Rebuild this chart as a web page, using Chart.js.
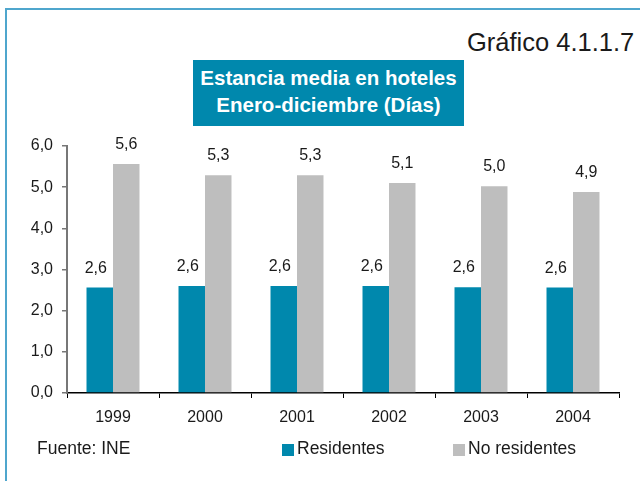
<!DOCTYPE html>
<html>
<head>
<meta charset="utf-8">
<script src="https://cdn.jsdelivr.net/npm/chart.js@4/dist/chart.umd.min.js"></script>
<style>
  body { margin: 0; background: #fff; font-family: "Liberation Sans", Arial, sans-serif; color: #1a1a1a; }
  #wrap { position: relative; width: 640px; height: 481px; overflow: hidden; }
  #frame { position: absolute; left: 5px; top: 8px; width: 700px; height: 600px; border: 2px solid #4fa6cd; box-sizing: border-box; }
  #num { position: absolute; left: 467px; top: 30px; font-size: 25.5px; line-height: 25px; white-space: nowrap; }
  #title { position: absolute; left: 193px; top: 60px; width: 271px; height: 66px; background: #0088ad; color: #fff;
           font-weight: bold; font-size: 20.5px; line-height: 26.7px; text-align: center; padding-top: 5px; box-sizing: border-box; }
  #fuente { position: absolute; left: 37px; top: 438px; font-size: 17.5px; line-height: 20px; }
  #legend { position: absolute; left: 0; top: 438px; font-size: 17.5px; line-height: 20px; }
  .item { position: absolute; white-space: nowrap; }
  .box { position: absolute; top: 6px; width: 12px; height: 12px; }
  .lbl { position: absolute; left: 15px; top: 0; }
  canvas { position: absolute; left: 0; top: 0; }
</style>
</head>
<body>
<div id="wrap">
  <div id="frame"></div>
  <div id="num">Gráfico 4.1.1.7</div>
  <div id="title">Estancia media en hoteles<br>Enero-diciembre (Días)</div>
  <canvas id="chart" width="640" height="481"></canvas>
  <div id="fuente">Fuente: INE</div>
  <div id="legend"></div>
</div>
<script>
var years = ['1999', '2000', '2001', '2002', '2003', '2004'];
var residentes = [2.56, 2.60, 2.60, 2.60, 2.57, 2.56];
var noResidentes = [5.56, 5.29, 5.29, 5.10, 5.02, 4.88];
var seriesNames = ['Residentes', 'No residentes'];
var seriesColors = ['#0088ad', '#bebebe'];
var yTicks = [0, 1, 2, 3, 4, 5, 6];

function coma(v) {
    return v.toFixed(1).replace('.', ',');
}

// value labels above each bar
var valueLabels = {
    id: 'valueLabels',
    afterDatasetsDraw: function (chart) {
        var ctx = chart.ctx;
        ctx.save();
        ctx.font = '16px "Liberation Sans", Arial, sans-serif';
        ctx.fillStyle = '#1a1a1a';
        ctx.textAlign = 'center';
        ctx.textBaseline = 'middle';
        chart.data.datasets.forEach(function (ds, i) {
            var meta = chart.getDatasetMeta(i);
            meta.data.forEach(function (bar, j) {
                var dx = i === 0 ? -4 : 0;
                ctx.fillText(coma(ds.data[j]), bar.x + dx, bar.y - 19.5);
            });
        });
        ctx.restore();
    }
};

var ctx = document.getElementById('chart').getContext('2d');

new Chart(ctx, {
    type: 'bar',
    data: {
        labels: years,
        datasets: [{
            label: seriesNames[0],
            data: residentes,
            backgroundColor: seriesColors[0],
            barPercentage: 1,
            categoryPercentage: 0.576
        }, {
            label: seriesNames[1],
            data: noResidentes,
            backgroundColor: seriesColors[1],
            barPercentage: 1,
            categoryPercentage: 0.576
        }]
    },
    options: {
        responsive: false,
        animation: false,
        devicePixelRatio: 1,
        layout: { padding: { left: 0, right: 21, top: 146, bottom: 0 } },
        plugins: {
            legend: { display: false },
            tooltip: { enabled: false }
        },
        scales: {
            x: {
                grid: { drawOnChartArea: false, tickLength: 5, color: '#000', lineWidth: 1 },
                border: { color: '#000', width: 1.5 },
                ticks: { color: '#1a1a1a', padding: 10, font: { size: 16, family: '"Liberation Sans", Arial, sans-serif' } },
                afterFit: function (s) { s.height = 88; }
            },
            y: {
                min: 0,
                max: 6,
                afterBuildTicks: function (s) { s.ticks = yTicks.map(function (v) { return { value: v }; }); },
                grid: { drawOnChartArea: false, tickLength: 5, color: '#777', lineWidth: 1.5 },
                border: { color: '#777', width: 2 },
                ticks: {
                    color: '#1a1a1a',
                    padding: 9,
                    font: { size: 16, family: '"Liberation Sans", Arial, sans-serif' },
                    callback: function (v) { return coma(v); }
                },
                afterFit: function (s) { s.width = 67; }
            }
        }
    },
    plugins: [valueLabels]
});

// legend built from the series arrays
var legend = document.getElementById('legend');
var legendX = [282, 453];
seriesNames.forEach(function (name, i) {
    var item = document.createElement('div');
    item.className = 'item';
    item.style.left = legendX[i] + 'px';
    item.innerHTML = '<span class="box" style="background:' + seriesColors[i] + '"></span><span class="lbl">' + name + '</span>';
    legend.appendChild(item);
});
</script>
</body>
</html>
